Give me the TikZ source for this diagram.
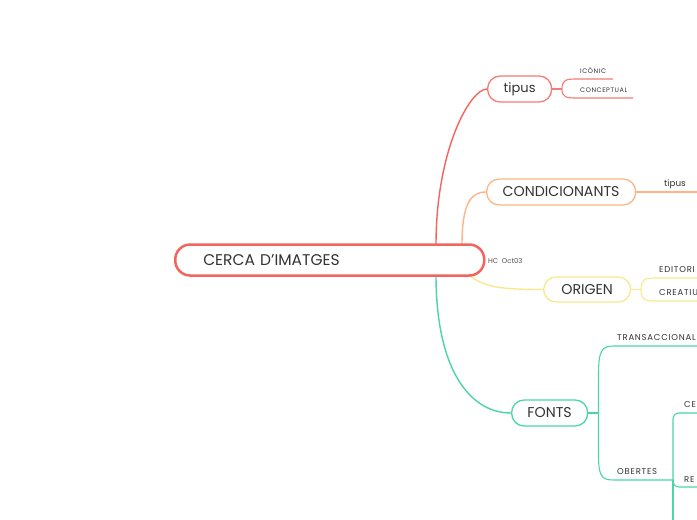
\documentclass[tikz,border=0pt]{standalone}
\usepackage{fontspec}
\setmainfont{Poppins}
\newfontfamily\labfont[LetterSpace=9]{Poppins}
\definecolor{cmain}{HTML}{F4645E}
\definecolor{ctip}{HTML}{F57B76}
\definecolor{ccond}{HTML}{FDB586}
\definecolor{corig}{HTML}{F8E98C}
\definecolor{cfont}{HTML}{4AD6A6}
\definecolor{ctxt}{HTML}{333333}
\tikzset{
  topic/.style={draw, fill=white, rounded corners=12.5pt, line width=1.3pt, minimum height=26pt, anchor=west, inner sep=0pt, text=ctxt, font=\fontsize{14.2}{16}\selectfont},
  lab/.style={anchor=west, inner sep=0pt, text=ctxt, font=\labfont\fontsize{8.5}{9}\selectfont},
  conn/.style={line width=1.4pt},
  br/.style={line width=1.1pt}
}
\begin{document}
\begin{tikzpicture}[x=1pt,y=-1pt]
\useasboundingbox[fill=white] (0,0) rectangle (697,520);
% main connectors
\coordinate (m1) at (436,245);
\coordinate (m2) at (462,245);
\coordinate (m3) at (470,276);
\coordinate (m4) at (436,275);
\node[topic, draw=ctip, font=\fontsize{13}{15}\selectfont] (tipus) at (487,89) [minimum width=64pt] {tipus};
\node[topic, draw=ccond] (cond) at (486,192) [minimum width=149pt] {CONDICIONANTS};
\node[topic, draw=corig] (orig) at (543,289.5) [minimum width=87pt, minimum height=25pt] {ORIGEN};
\node[topic, draw=cfont] (fonts) at (511,413) [minimum width=76pt] {FONTS};
\draw[conn, cmain] (m1) .. controls (436,150) and (470,89) .. (tipus.west);
\draw[conn, ccond] (m2) .. controls (462,205) and (470,192) .. (cond.west);
\draw[conn, corig] (m3) .. controls (485,287) and (500,289.5) .. (orig.west);
\draw[conn, cfont] (m4) .. controls (436,370) and (470,413) .. (fonts.west);
% main node
\node[draw=cmain, fill=white, line width=2.5pt, rounded corners=15pt, anchor=west,
      minimum height=31pt, text width=253pt, inner xsep=28pt, inner ysep=0pt, align=left,
      text=ctxt, font=\fontsize{15.5}{17}\selectfont] (main) at (174,260) {CERCA D'IMATGES};
\node[anchor=west, inner sep=0pt, text=ctxt!85, font=\fontsize{6.9}{8}\selectfont] (hc) at (488,260.5) {HC\ \ Oct03};
% tipus branches
\coordinate (t0) at (562,89);
\coordinate (t1) at (613,79);
\coordinate (t2) at (633,98);
\draw[br, ctip] (tipus.east) -- (t0);
\draw[br, ctip] (t0) .. controls (562,80) and (566,79) .. (576,79) -- (t1);
\draw[br, ctip] (t0) .. controls (562,97) and (566,98) .. (576,98) -- (t2);
\node[lab, font=\labfont\fontsize{6.5}{7}\selectfont] (icon) at (580,71) {ICÒNIC};
\node[lab, font=\labfont\fontsize{6.5}{7}\selectfont] (conc) at (580,90.5) {CONCEPTUAL};
% condicionants branch
\coordinate (c1) at (697,192);
\draw[br, ccond] (cond.east) -- (c1);
\node[lab, font=\fontsize{8.8}{10}\selectfont] (ctip) at (664,184) {tipus};
% origen branches
\coordinate (o0) at (641,289.5);
\coordinate (o1) at (697,278);
\coordinate (o2) at (697,301);
\draw[br, corig] (orig.east) -- (o0);
\draw[br, corig] (o0) .. controls (641,279) and (645,278) .. (655,278) -- (o1);
\draw[br, corig] (o0) .. controls (641,300) and (645,301) .. (655,301) -- (o2);
\node[lab] (edit) at (659,270) {EDITORI};
\node[lab] (creat) at (659,292.5) {CREATIU};
% fonts branches
\coordinate (f0) at (598.5,413);
\coordinate (f1) at (697,346);
\coordinate (f2) at (673,480);
\draw[br, cfont] (fonts.east) -- (f0);
\draw[br, cfont] (f0) -- (598.5,375) .. controls (598.5,350) and (602,346) .. (614,346) -- (f1);
\draw[br, cfont] (f0) -- (598.5,455) .. controls (598.5,477) and (602,480) .. (614,480) -- (f2);
\node[lab] (trans) at (617,338) {TRANSACCIONAL};
\node[lab] (obert) at (617,472) {OBERTES};
% obertes branches
\coordinate (g1) at (697,413);
\coordinate (g2) at (697,487);
\coordinate (g3) at (673,520);
\draw[br, cfont, rounded corners=6pt] (f2) |- (g1);
\draw[br, cfont, rounded corners=6pt] (f2) |- (g2);
\draw[br, cfont] (f2) -- (g3);
\node[lab] (ce) at (684,404.5) {CE};
\node[lab] (re) at (684,479.5) {RE};
\end{tikzpicture}
\end{document}
